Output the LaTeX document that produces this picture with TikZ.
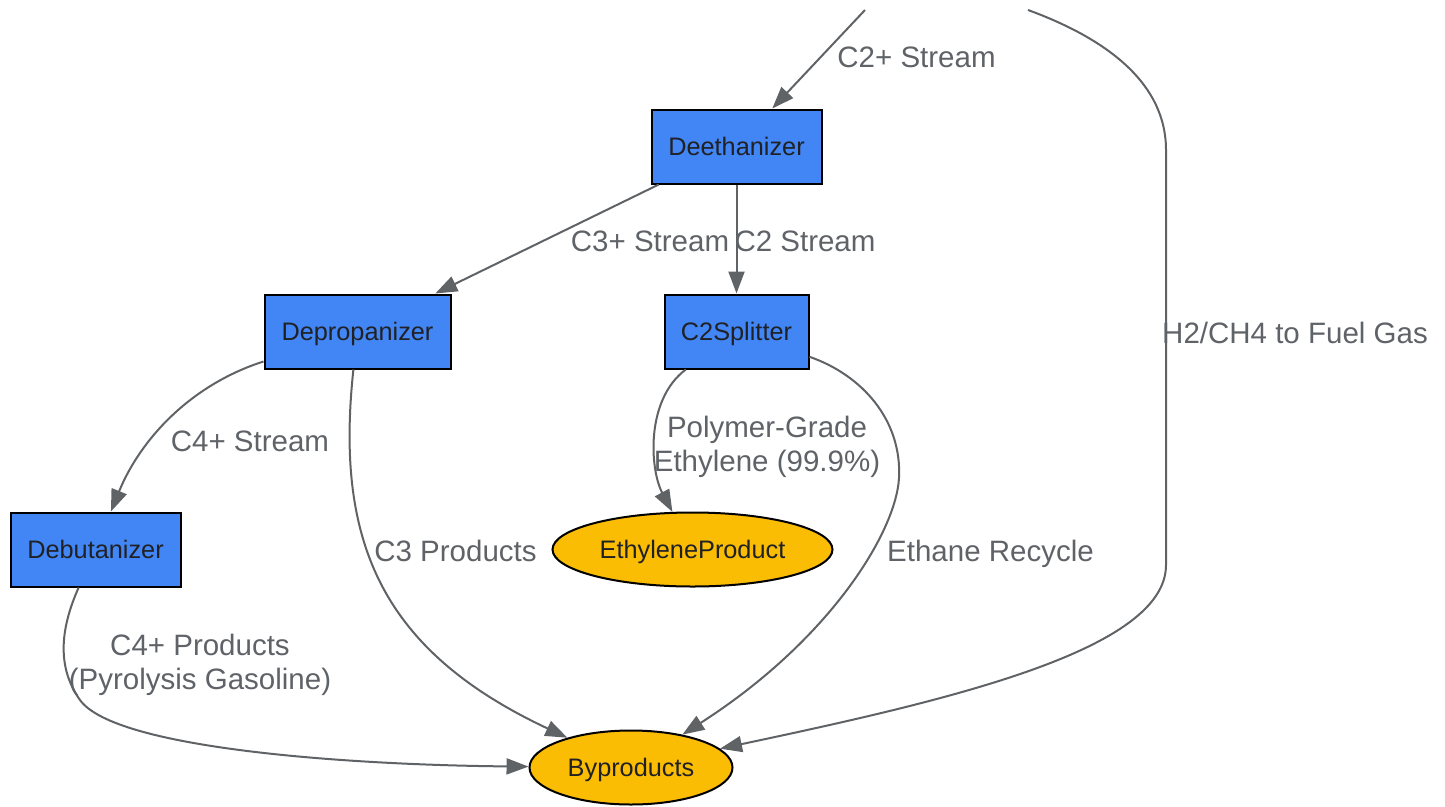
\documentclass[tikz,border=0pt]{standalone}
\usepackage{fontspec}
\setmainfont{Liberation Sans}
\usetikzlibrary{shapes.geometric,arrows.meta}
\definecolor{procblue}{HTML}{4285F4}
\definecolor{prodorange}{HTML}{FBBC04}
\definecolor{edgegrey}{HTML}{606366}
\definecolor{labelgrey}{HTML}{5F6368}
\definecolor{nodetext}{HTML}{202124}
\begin{document}
\begin{tikzpicture}[x=1pt,y=-1pt,
  unit/.style={draw=black, line width=2pt, fill=procblue, rectangle, minimum height=74pt, inner sep=0pt, text=nodetext, font=\fontsize{25.3}{30}\selectfont, text height=18pt, text depth=0pt},
  product/.style={draw=black, line width=2pt, fill=prodorange, ellipse, minimum height=74pt, inner sep=0pt, text=nodetext, font=\fontsize{25.3}{30}\selectfont, text height=18pt, text depth=0pt},
  flow/.style={draw=edgegrey, line width=2pt, -{Triangle[length=22pt,width=16pt]}},
  lbl/.style={text=labelgrey, font=\fontsize{29.5}{34}\selectfont, inner sep=0pt, text height=21pt, text depth=0pt},
  lbltwo/.style={text=labelgrey, font=\fontsize{29.5}{34}\selectfont, inner sep=0pt, align=center}]
\useasboundingbox (0,0) rectangle (1445,806);

% nodes
\node[unit, minimum width=170pt] (deeth) at (736.5,146.5) {Deethanizer};
\node[unit, minimum width=186pt] (dep) at (357.5,331.5) {Depropanizer};
\node[unit, minimum width=144pt] (c2s) at (736.5,331.5) {C2Splitter};
\node[unit, minimum width=170pt] (deb) at (95.5,549.5) {Debutanizer};
\node[product, minimum width=280pt] (ethp) at (692.5,549.5) {EthyleneProduct};
\node[product, minimum width=203pt] (byp) at (631,767.5) {Byproducts};

% free ends
\coordinate (srcA) at (865,10);
\coordinate (srcB) at (1028,10);

% connectors
\draw[flow] (srcA) -- (deeth);
\draw[flow] (deeth) -- (dep);
\draw[flow] (deeth) -- (c2s);
\draw[flow] (dep) .. controls (190,385) and (140,440) .. (deb);
\draw[flow] (dep) .. controls (335,540) and (380,650) .. (byp);
\draw[flow] (c2s) .. controls (645,400) and (650,470) .. (ethp);
\draw[flow] (c2s) .. controls (862,375) and (902,420) .. (899,478) .. controls (896,532) and (830,640) .. (byp);
\draw[flow] (deb) .. controls (62,625) and (55,665) .. (80,700) .. controls (115,749) and (350,765) .. (byp);
\draw[flow] (srcB) .. controls (1110,40) and (1166,85) .. (1166,150) -- (1166,565) .. controls (1166,650) and (950,700) .. (byp);

% labels
\node[lbl] (l1) at (916.5,56.5) {C2+ Stream};
\node[lbl] (l2) at (650,241) {C3+ Stream};
\node[lbl] (l3) at (805,241) {C2 Stream};
\node[lbl] (l4) at (1295,333) {H2/CH4 to Fuel Gas};
\node[lbl] (l5) at (250,441) {C4+ Stream};
\node[lbl] (l6) at (455.5,551) {C3 Products};
\node[lbltwo] (l7) at (767,446.5) {Polymer-Grade\\Ethylene (99.9\%)};
\node[lbl] (l8) at (990.5,551) {Ethane Recycle};
\node[lbltwo] (l9) at (200,664.5) {C4+ Products\\(Pyrolysis Gasoline)};
\end{tikzpicture}
\end{document}
